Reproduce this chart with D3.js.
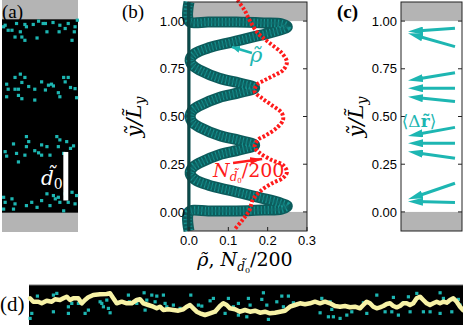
<!DOCTYPE html>
<html><head><meta charset="utf-8">
<script src="https://cdn.jsdelivr.net/npm/d3@7"></script>
<style>body{margin:0;background:#fff}svg{display:block}</style>
</head><body>
<svg id="fig" width="463" height="327"></svg>
<script>
// ---------- data ----------
const yTicks = [0, 0.25, 0.5, 0.75, 1.0];
const xTicksB = [0, 0.1, 0.2, 0.3];
// panel (b): density rho (x) vs y/Ly
const rhoVal = [0,0,0.05,0.12,0.19,0.235,0.25,0.235,0.18,0.11,0.05,0.015,0.003,0.008,0.03,0.077,0.128,0.167,0.128,0.077,0.03,0.008,0.003,0.008,0.03,0.077,0.128,0.167,0.128,0.077,0.03,0.008,0.003,0.015,0.05,0.11,0.18,0.235,0.25,0.235,0.19,0.12,0.05,0,0];
const rhoY = [1.1,1.0,0.995,0.995,0.99,0.985,0.97,0.955,0.925,0.89,0.86,0.83,0.80,0.77,0.74,0.70,0.675,0.65,0.625,0.60,0.56,0.53,0.50,0.47,0.44,0.40,0.375,0.35,0.325,0.30,0.26,0.23,0.20,0.17,0.14,0.11,0.075,0.045,0.03,0.015,0.01,0.005,0.005,0.0,-0.1];
// panel (b): N_d0/200
const nVal = [0.123,0.141,0.154,0.175,0.205,0.236,0.249,0.239,0.218,0.192,0.172,0.167,0.185,0.21,0.236,0.239,0.223,0.197,0.175,0.167,0.18,0.21,0.239,0.249,0.239,0.213,0.185,0.162,0.154,0.136,0.115];
const nY = [1.11,1.058,1.005,0.937,0.885,0.832,0.785,0.743,0.717,0.69,0.665,0.63,0.597,0.56,0.518,0.482,0.44,0.403,0.377,0.34,0.309,0.272,0.246,0.209,0.178,0.152,0.115,0.063,0.01,-0.042,-0.094];
// panel (c): mean displacement arrows
const arrTailY = [0.962,0.866,0.729,0.648,0.578,0.443,0.36,0.281,0.15,0.049];
const arrHeadY = [0.945,0.936,0.688,0.648,0.604,0.398,0.36,0.316,0.066,0.055];
const arrTailX = [0.885,0.885,0.885,0.885,0.885,0.885,0.885,0.885,0.885,0.885];
const arrHeadX = [0.115,0.115,0.115,0.115,0.115,0.115,0.115,0.115,0.115,0.115];
// panel (a): particle positions (x/Lx, y/Ly)
const aX = [0.04,0.08,0.13,0.19,0.24,0.30,0.32,0.41,0.48,0.57,0.59,0.67,0.76,0.75,0.83,0.87,0.92,0.95,0.96,0.99,0.17,0.26,0.30,0.46,0.54,0.02,
 0.17,0.24,0.30,0.06,0.08,0.17,0.215,0.215,0.26,0.35,0.43,0.43,0.52,0.57,0.61,0.65,0.675,0.74,0.76,0.81,0.87,0.83,0.90,0.96,0.98,0.06,0.26,
 0.32,0.35,0.15,0.04,0.06,0.19,0.30,0.32,0.43,0.48,0.52,0.52,0.59,0.63,0.72,0.76,0.74,0.85,0.90,0.94,0.81,0.215,
 0.02,0.04,0.13,0.17,0.02,0.15,0.32,0.39,0.46,0.52,0.59,0.675,0.70,0.63,0.76,0.81,0.83,0.87,0.92,0.96,0.98,0.74];
const aY = [0.97,0.944,0.944,0.979,0.936,0.974,0.962,0.974,0.991,0.979,0.936,0.984,0.97,0.936,0.953,0.979,0.892,0.936,0.962,0.996,0.909,0.909,0.892,0.904,0.979,0.962,
 0.70,0.717,0.70,0.665,0.639,0.639,0.639,0.607,0.59,0.653,0.639,0.583,0.677,0.635,0.66,0.665,0.656,0.621,0.60,0.70,0.70,0.677,0.648,0.642,0.595,0.60,0.674,
 0.394,0.368,0.356,0.316,0.293,0.307,0.298,0.342,0.321,0.31,0.351,0.298,0.342,0.298,0.394,0.377,0.342,0.368,0.333,0.346,0.307,0.263,
 0.08,0.054,0.072,0.046,0.019,0.019,0.037,0.054,0.028,0.063,0.098,0.089,0.072,0.037,0.054,0.01,0.098,0.054,0.106,0.046,0.089,0.08];
const d0 = [0.063, 0.314];
// panel (d): trajectory and particles (length units)
const dPathX = [1,4.3,9.3,12.7,17.7,22.7,26,31,34.3,37.7,41,44.3,49.3,52.7,56,59.3,64.3,71,77.7,81,84.3,87.7,92.7,97.7,102.7,107.7,111,114.3,119.3,124.3,127.7,131,134.3,139.3,144.3,149.3,154.3,157.7,161,164.3,167.7,171,176,181,186,191,194.3,197.7,201,206,211,216,221,226,231,236,241,246,251,256,261,266,271,276,281,286,291,296,301,306,311,316,321,326,331,334.3,337.7,341,344.3,347.7,351,354.3,357.7,361,364.3,367.7,371,374.3,377.7,381,384.3,387.7,391,394.3,397.7,401,404.3,407.7,411,414.3,417.7,421,424.3,427.7,431,434];
const dPathY = [26.7,23.3,23.3,21.7,24.3,23.3,25.7,25,26.7,28.3,25,26.7,26.7,21.7,25,27.7,30,30.7,31,31.7,26.7,21.7,23.3,21.7,21.7,25,25.7,21.7,20,18.3,16.7,18.3,15,15.7,15,14.3,15.7,18.3,20,16.7,13.3,11.7,10,11.7,13.3,19,21.7,20,16.7,15.7,13.3,15,13.3,14.3,12.3,13.3,11.7,12.3,13.3,14.3,18.3,20,21.7,20.7,21.7,23.3,21.7,23.3,21.7,19,18.3,19,17.7,18.3,16.7,20,23.3,21.7,18.3,16.7,17.7,19,21,21.7,19,17.7,19,21.7,21.7,20,21.7,26.7,28.3,25,21.7,20,21.7,23.3,21.7,23.3,22.3,25,26.7,23.3,18.3,15];
const dDotX = [8.3,24.3,27.7,24.3,2.7,1,39.3,39.3,42.7,49.3,59.3,56,71,72.7,77.7,74.3,79.3,81,99.3,100.3,107.7,115,117.7,116,122.7,126,127.7,134.3,136,137.7,144.3,151,161.7,169.3,172.7,181,184.3,186,196,199.3,204.3,209.3,209.3,217.7,221,219.3,232.7,234.3,239.3,237.7,247.7,252.7,259.3,254.3,264.3,291,292.7,301,299.3,302.7,304.3,311,316,317.7,322.7,334.3,337.7,347.7,356,364.3,362.7,369.3,374.3,379.3,381,387.7,394.3,401,411,414.3,411,419.3,422.7,429.3,431];
const dDotY = [29,30,31.7,13.3,11.7,6.7,18.3,11.7,21.7,21.7,15,11.7,23.3,21.7,25,18.3,16.7,12.3,30,23.3,21.7,32.3,25,15,30,23.3,29,30,21.7,18.3,20,16.7,30,20,19,24.3,26.7,13.3,11.7,26.7,18.3,21.7,10,8.3,20,26.7,25.7,32.3,5.7,20,23.3,29,29,18.3,22.3,12.3,26.7,23.3,8.3,15.7,8.3,6.7,19,10,13.3,22.3,11.7,30,13.3,27.7,13.3,10,22.3,28.3,13.3,31.7,13.3,13.3,32.3,26.7,11.7,23.3,13.3,25.7,20];

// ---------- drawing ----------
const svg = d3.select('#fig');
const GRAY = '#b4b4b4', CYAN = '#1db6b2', TEAL = '#0c5c5c', RED = '#ff1a1a';
const SERIF = '"Liberation Serif","DejaVu Serif",serif';
const MATH = '"DejaVu Serif",serif';
const SANS = '"Liberation Sans",Arial,sans-serif';
const T = '\u0303'; // combining tilde

const yS = d3.scaleLinear().domain([-0.1, 1.1]).range([231, 2]);
const yA = d3.scaleLinear().domain([-0.1, 1.1]).range([232, 0]);
const xA = d3.scaleLinear().domain([0, 1]).range([2, 78]);
const xB = d3.scaleLinear().domain([0, 0.3]).range([189, 307]);
const xC = d3.scaleLinear().domain([0, 1]).range([401, 462]);
const xD = d3.scaleLinear().domain([0, 434]).range([29, 463]);
const yD = d3.scaleLinear().domain([0, 40]).range([325, 285]);

// ---- panel (a)
const ga = svg.append('g');
ga.append('rect').attr('x', xA(0)).attr('y', yA(1.1)).attr('width', xA(1)-xA(0)).attr('height', yA(-0.1)-yA(1.1)).attr('fill', GRAY);
ga.append('rect').attr('x', xA(0)).attr('y', yA(1)).attr('width', xA(1)-xA(0)).attr('height', yA(0)-yA(1)).attr('fill', '#000');
ga.selectAll('rect.p').data(aX).join('rect').attr('class','p')
  .attr('x', (d,i)=>xA(d)-1.5).attr('y', (d,i)=>yA(aY[i])-1.5).attr('width',3.2).attr('height',3.2).attr('fill', CYAN);
ga.append('rect').attr('x', xA(0.807)).attr('y', yA(d0[1])).attr('width', xA(0.872)-xA(0.807)).attr('height', yA(d0[0])-yA(d0[1])).attr('fill','#fff');
const dl = ga.append('text').attr('x', 41).attr('y', 185).attr('fill','#fff').attr('font-family', MATH).attr('font-size', 20).attr('font-style','italic');
dl.append('tspan').text('d' + T);
dl.append('tspan').attr('font-size', 14).attr('dy', 4).attr('font-style','normal').text('0');
svg.append('text').attr('x', 2).attr('y', 18).attr('font-family', SERIF).attr('font-size', 19).text('(a)');

// ---- panel (b)
const gb = svg.append('g');
gb.append('rect').attr('x', xB(0)).attr('y', yS(1.1)).attr('width', xB(0.3)-xB(0)).attr('height', yS(1)-yS(1.1)).attr('fill', GRAY);
gb.append('rect').attr('x', xB(0)).attr('y', yS(0)).attr('width', xB(0.3)-xB(0)).attr('height', yS(-0.1)-yS(0)).attr('fill', GRAY);
const lineB = d3.line().curve(d3.curveCatmullRom.alpha(0.5));
const rhoPts = rhoVal.map((v,i)=>[xB(v), yS(rhoY[i])]);
gb.append('path').attr('d', lineB(rhoPts)).attr('fill','none').attr('stroke', TEAL).attr('stroke-width', 11).attr('stroke-linejoin','round');
gb.append('path').attr('d', lineB(rhoPts)).attr('fill','none').attr('stroke', CYAN).attr('stroke-width', 8).attr('stroke-dasharray','1.2 2.3').attr('opacity', 0.6);
gb.append('path').attr('d', lineB(rhoPts)).attr('fill','none').attr('stroke', '#0f6e6e').attr('stroke-width', 3).attr('opacity',0.5);
const nPts = nVal.map((v,i)=>[xB(v), yS(nY[i])]);
gb.append('path').attr('d', lineB(nPts)).attr('fill','none').attr('stroke', RED).attr('stroke-width', 4).attr('stroke-dasharray','2.6 1.9');
// frame
gb.append('rect').attr('x', xB(0)-1).attr('y', yS(1.1)).attr('width', xB(0.3)-xB(0)+1).attr('height', yS(-0.1)-yS(1.1)).attr('fill','none').attr('stroke','#222').attr('stroke-width',1);
gb.append('line').attr('x1', xB(0)).attr('x2', xB(0)).attr('y1', yS(1.1)).attr('y2', yS(-0.1)).attr('stroke', '#0a4a4a').attr('stroke-width', 3);
// ticks
yTicks.forEach(t=>{
  gb.append('line').attr('x1', xB(0.3)).attr('x2', xB(0.3)-4).attr('y1', yS(t)).attr('y2', yS(t)).attr('stroke','#222');
  gb.append('text').attr('x', 185).attr('y', yS(t)).attr('dy','0.36em').attr('text-anchor','end').attr('font-family', SANS).attr('font-size', 13).text(d3.format('.2f')(t));
});
xTicksB.forEach(t=>{
  gb.append('line').attr('x1', xB(t)).attr('x2', xB(t)).attr('y1', yS(-0.1)).attr('y2', yS(-0.1)-4).attr('stroke','#222');
  gb.append('text').attr('x', xB(t)).attr('y', 245).attr('text-anchor','middle').attr('font-family', SANS).attr('font-size', 13).text(d3.format('.1f')(t));
});
// axis labels
function yLabel(g, cx) {
  const t = g.append('text').attr('transform', `translate(${cx},117) rotate(-90)`).attr('text-anchor','middle')
    .attr('font-family', MATH).attr('font-size', 21).attr('font-style','italic');
  t.append('tspan').text('y' + T + '/L' + T);
  t.append('tspan').attr('font-size', 14).attr('dy', 4).text('y');
}
yLabel(gb, 141);
const xl = gb.append('text').attr('x', 245).attr('y', 266).attr('text-anchor','middle').attr('font-family', MATH).attr('font-size', 19);
xl.append('tspan').attr('font-style','italic').text('\u03C1' + T);
xl.append('tspan').text(', ');
xl.append('tspan').attr('font-style','italic').text('N');
xl.append('tspan').attr('font-style','italic').attr('font-size', 12).attr('dy', 5).text('d' + T);
xl.append('tspan').attr('font-size', 8).attr('dy', 2).text('0');
xl.append('tspan').attr('dy', -7).text('/200');
// annotations
const defs = svg.append('defs');
function mk(id, col, w, h) {
  defs.append('marker').attr('id', id).attr('viewBox', `0 0 ${w} ${h}`).attr('markerWidth', w).attr('markerHeight', h)
    .attr('markerUnits','userSpaceOnUse').attr('refX', w).attr('refY', h/2).attr('orient','auto')
    .append('path').attr('d', `M0,0 L${w},${h/2} L0,${h} Z`).attr('fill', col);
}
mk('hc', CYAN, 15, 8); mk('hr', RED, 12, 7); mk('hb', CYAN, 8, 7);
gb.append('line').attr('x1', xB(0.160)).attr('y1', yS(0.833)).attr('x2', xB(0.109)).attr('y2', yS(0.864)).attr('stroke', CYAN).attr('stroke-width', 2.5).attr('marker-end','url(#hb)');
gb.append('text').attr('x', 250).attr('y', 62).attr('fill', CYAN).attr('font-family', MATH).attr('font-style','italic').attr('font-size', 21).text('\u03C1' + T);
gb.append('line').attr('x1', xB(0.112)).attr('y1', yS(0.256)).attr('x2', xB(0.186)).attr('y2', yS(0.277)).attr('stroke', RED).attr('stroke-width', 2.5).attr('marker-end','url(#hr)');
const nl = gb.append('text').attr('x', 213).attr('y', 177).attr('fill', RED).attr('font-family', MATH).attr('font-size', 19);
nl.append('tspan').attr('font-style','italic').text('N');
nl.append('tspan').attr('font-style','italic').attr('font-size', 12).attr('dy', 4).text('d' + T);
nl.append('tspan').attr('font-size', 7).attr('dy', 2).text('0');
nl.append('tspan').attr('dy', -6).text('/200');
svg.append('text').attr('x', 122).attr('y', 18).attr('font-family', SERIF).attr('font-size', 19).text('(b)');

// ---- panel (c)
const gc = svg.append('g');
gc.append('rect').attr('x', xC(0)).attr('y', yS(1.1)).attr('width', xC(1)-xC(0)).attr('height', yS(1)-yS(1.1)).attr('fill', GRAY);
gc.append('rect').attr('x', xC(0)).attr('y', yS(0)).attr('width', xC(1)-xC(0)).attr('height', yS(-0.1)-yS(0)).attr('fill', GRAY);
arrTailY.forEach((ty,i)=>{
  const x1 = xC(arrTailX[i]), y1 = yS(ty), x2 = xC(arrHeadX[i]), y2 = yS(arrHeadY[i]);
  const L = Math.hypot(x2-x1, y2-y1), k = (L-8)/L;
  gc.append('line').attr('x1', x1).attr('y1', y1).attr('x2', x1+(x2-x1)*k).attr('y2', y1+(y2-y1)*k).attr('stroke', CYAN).attr('stroke-width', 3);
  gc.append('line').attr('x1', x1+(x2-x1)*k).attr('y1', y1+(y2-y1)*k).attr('x2', x2).attr('y2', y2).attr('stroke', 'none').attr('marker-end','url(#hc)');
});
gc.append('rect').attr('x', xC(0)).attr('y', yS(1.1)).attr('width', xC(1)-xC(0)).attr('height', yS(-0.1)-yS(1.1)).attr('fill','none').attr('stroke','#222');
yTicks.forEach(t=>{
  gc.append('line').attr('x1', xC(0)).attr('x2', xC(0)+4).attr('y1', yS(t)).attr('y2', yS(t)).attr('stroke','#222');
  gc.append('line').attr('x1', xC(1)).attr('x2', xC(1)-4).attr('y1', yS(t)).attr('y2', yS(t)).attr('stroke','#222');
  gc.append('text').attr('x', 397).attr('y', yS(t)).attr('dy','0.36em').attr('text-anchor','end').attr('font-family', SANS).attr('font-size', 13).text(d3.format('.2f')(t));
});
yLabel(gc, 363);
const dr = gc.append('text').attr('x', 419).attr('y', 127).attr('text-anchor','middle').attr('fill', CYAN).attr('font-family', MATH).attr('font-size', 17);
dr.append('tspan').text('\u27E8\u0394');
dr.append('tspan').attr('font-weight','bold').text('r' + T);
dr.append('tspan').text('\u27E9');
svg.append('text').attr('x', 337).attr('y', 18).attr('font-family', SERIF).attr('font-size', 19).attr('font-weight','bold').text('(c)');

// ---- panel (d)
const gd = svg.append('g');
gd.append('rect').attr('x', xD(0)).attr('y', yD(40)).attr('width', xD(434)-xD(0)).attr('height', yD(0)-yD(40)).attr('fill','#000');
gd.append('line').attr('x1', xD(0)).attr('x2', xD(434)).attr('y1', yD(40)).attr('y2', yD(40)).attr('stroke','#777');
gd.selectAll('rect.q').data(dDotX).join('rect').attr('class','q')
  .attr('x', d=>xD(d)-1.5).attr('y', (d,i)=>yD(dDotY[i])-1.5).attr('width',3.2).attr('height',3.2).attr('fill', CYAN);
const lineD = d3.line().x((d,i)=>xD(d)).y((d,i)=>yD(dPathY[i])).curve(d3.curveLinear);
gd.append('path').attr('d', lineD(dPathX)).attr('fill','none').attr('stroke','#f7f2a6').attr('stroke-width',4.5).attr('stroke-linejoin','round').attr('stroke-linecap','round');
svg.append('text').attr('x', 0).attr('y', 311).attr('font-family', SERIF).attr('font-size', 21).text('(d)');
</script>
</body></html>
